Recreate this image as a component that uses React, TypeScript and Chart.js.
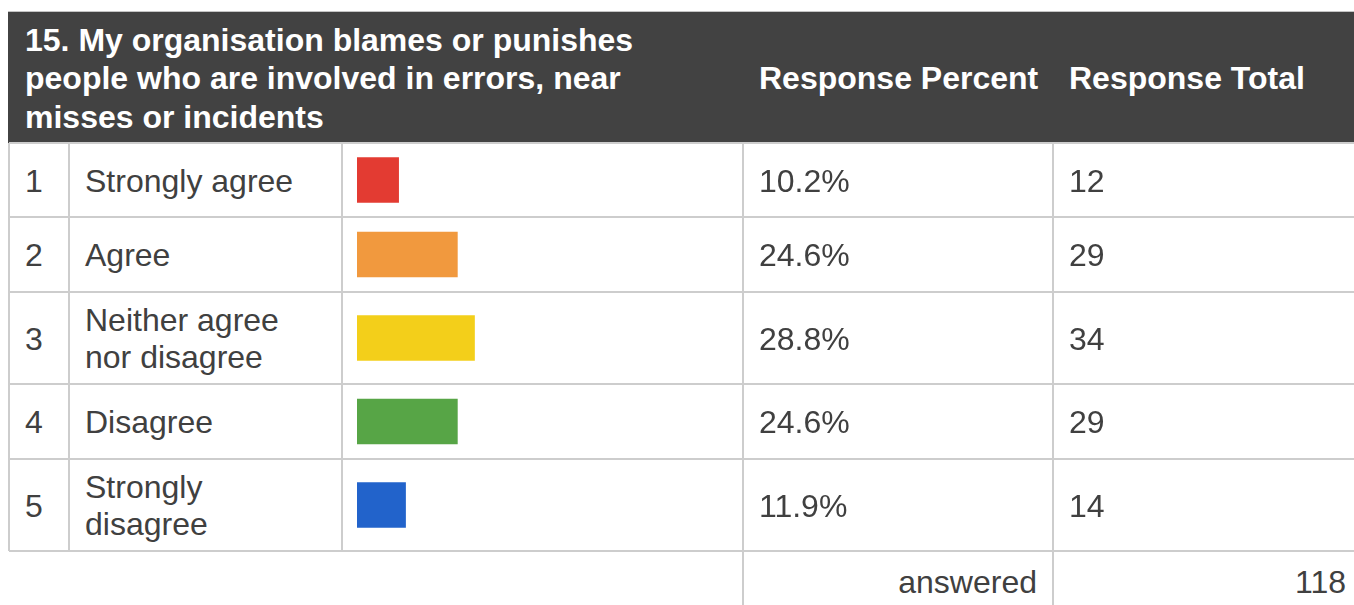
import React, { useEffect, useRef } from "react";
import { Chart, registerables } from "chart.js";

Chart.register(...registerables);

// ---- data ----
const questionTitle = "15. My organisation blames or punishes\npeople who are involved in errors, near\nmisses or incidents";
const columnHeaders = ["Response Percent", "Response Total"];
const rowNumbers = ["1", "2", "3", "4", "5"];
const answerLabels = ["Strongly agree", "Agree", "Neither agree\nnor disagree", "Disagree", "Strongly\ndisagree"];
const responsePercent = [10.2, 24.6, 28.8, 24.6, 11.9];
const responseTotal = [12, 29, 34, 29, 14];
const answeredLabel = "answered";
const answeredTotal = 118;
const barColors = ["#e33b32", "#f1993e", "#f3cf1a", "#57a546", "#2263cb"];

// ---- layout ----
const COLX = [9, 69, 342, 743, 1053, 1362];
const ROWY = [12, 143, 217, 292, 384, 459, 551, 614];
const FONT = '"Liberation Sans", Arial, Helvetica, sans-serif';
const TEXT = "#404040";
const LINE = "#cdcdcd";

function BarCell({ value, color, top, height }: { value: number; color: string; top: number; height: number }) {
  const ref = useRef<HTMLCanvasElement>(null);
  useEffect(() => {
    const chart = new Chart(ref.current as HTMLCanvasElement, {
      type: "bar",
      data: {
        labels: [""],
        datasets: [{ data: [value], backgroundColor: color, borderWidth: 0, barThickness: 45 }],
      },
      options: {
        indexAxis: "y",
        responsive: false,
        maintainAspectRatio: false,
        animation: false,
        events: [],
        layout: { padding: { left: 15, right: 0, top: 0, bottom: 0 } },
        scales: {
          x: { display: false, min: 0, max: 100 },
          y: { display: false },
        },
        plugins: { legend: { display: false }, tooltip: { enabled: false } },
      },
    });
    return () => chart.destroy();
  }, [value, color, height]);
  const w = 423;
  return (
    <canvas
      ref={ref}
      width={w}
      height={height}
      style={{ position: "absolute", left: COLX[2], top, width: w, height, display: "block" }}
    />
  );
}

function Cell({
  x0, x1, y0, y1, children, align = "left", style = {},
}: { x0: number; x1: number; y0: number; y1: number; children: React.ReactNode; align?: string; style?: React.CSSProperties }) {
  return (
    <div
      style={{
        position: "absolute",
        left: x0,
        top: y0,
        width: x1 - x0,
        height: y1 - y0,
        boxSizing: "border-box",
        paddingLeft: 16,
        paddingRight: 16,
        display: "flex",
        alignItems: "center",
        justifyContent: align === "right" ? "flex-end" : "flex-start",
        whiteSpace: "pre",
        ...style,
      }}
    >
      <div style={{ textAlign: align as any }}>{children}</div>
    </div>
  );
}

export default function App() {
  const lines: React.ReactNode[] = [];
  for (let r = 1; r <= 6; r++) {
    lines.push(
      <div key={"h" + r} style={{ position: "absolute", left: COLX[0], top: ROWY[r] - 1, width: COLX[5] - COLX[0], height: 2, background: LINE }} />
    );
  }
  for (let c = 0; c < 5; c++) {
    const bottom = c >= 3 ? ROWY[7] : ROWY[6];
    lines.push(
      <div key={"v" + c} style={{ position: "absolute", left: COLX[c] - 1, top: ROWY[1], width: 2, height: bottom - ROWY[1], background: LINE }} />
    );
  }

  const headStyle: React.CSSProperties = { color: "#ffffff", fontWeight: "bold", lineHeight: "38.4px", paddingTop: 2 };
  const bodyStyle: React.CSSProperties = { lineHeight: "36.8px", paddingTop: 2 };

  return (
    <div
      style={{
        position: "absolute",
        left: 0,
        top: 0,
        width: 1354,
        height: 605,
        overflow: "hidden",
        background: "#ffffff",
        fontFamily: FONT,
        fontSize: 32,
        color: TEXT,
      }}
    >
      <div style={{ position: "absolute", left: COLX[0] - 1, top: ROWY[0] - 1, width: COLX[5] - COLX[0] + 2, height: ROWY[1] - ROWY[0] + 1, background: "#424242", borderTop: "1px solid #c4c4c4", boxSizing: "border-box" }} />
      <Cell x0={COLX[0]} x1={COLX[3]} y0={ROWY[0]} y1={ROWY[1]} style={headStyle}>
        {questionTitle}
      </Cell>
      <Cell x0={COLX[3]} x1={COLX[4]} y0={ROWY[0]} y1={ROWY[1]} style={headStyle}>
        {columnHeaders[0]}
      </Cell>
      <Cell x0={COLX[4]} x1={COLX[5]} y0={ROWY[0]} y1={ROWY[1]} style={headStyle}>
        {columnHeaders[1]}
      </Cell>

      {lines}

      {rowNumbers.map((n, i) => {
        const y0 = ROWY[i + 1];
        const y1 = ROWY[i + 2];
        return (
          <React.Fragment key={n}>
            <Cell x0={COLX[0]} x1={COLX[1]} y0={y0} y1={y1} style={bodyStyle}>{n}</Cell>
            <Cell x0={COLX[1]} x1={COLX[2]} y0={y0} y1={y1} style={bodyStyle}>{answerLabels[i]}</Cell>
            <BarCell value={responsePercent[i]} color={barColors[i]} top={y0} height={y1 - y0} />
            <Cell x0={COLX[3]} x1={COLX[4]} y0={y0} y1={y1} style={bodyStyle}>{responsePercent[i].toFixed(1) + "%"}</Cell>
            <Cell x0={COLX[4]} x1={COLX[5]} y0={y0} y1={y1} style={bodyStyle}>{String(responseTotal[i])}</Cell>
          </React.Fragment>
        );
      })}

      <Cell x0={COLX[3]} x1={COLX[4]} y0={ROWY[6]} y1={ROWY[6] + 63} align="right">{answeredLabel}</Cell>
      <Cell x0={COLX[4]} x1={COLX[5]} y0={ROWY[6]} y1={ROWY[6] + 63} align="right">{String(answeredTotal)}</Cell>
    </div>
  );
}
